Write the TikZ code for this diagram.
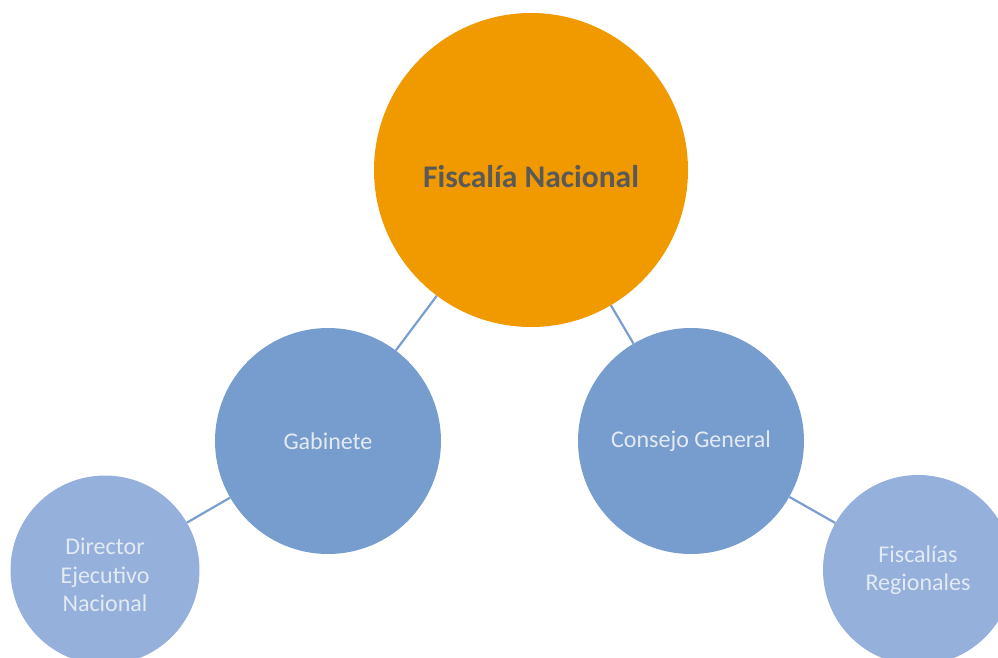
\documentclass[tikz,border=0pt]{standalone}
\usepackage{fontspec}
\setmainfont{Carlito}
\definecolor{orangeC}{HTML}{F09A00}
\definecolor{blueC}{HTML}{779CCE}
\definecolor{lblueC}{HTML}{94B0DB}
\definecolor{lineC}{HTML}{7A9ED0}
\definecolor{txtL}{HTML}{E4EAF3}
\definecolor{txtD}{HTML}{595959}
\begin{document}
\begin{tikzpicture}[x=1pt,y=-1pt,
  bubble/.style={circle,inner sep=0pt,text=txtL,align=center,font=\fontsize{24}{28.5}\selectfont},
  lbl/.style={inner sep=0pt,text=txtL,align=center,font=\fontsize{24}{28.5}\selectfont},
  conn/.style={draw=lineC,line width=2.2pt}]
\useasboundingbox (0,0) rectangle (998,658);
\node[bubble,fill=orangeC,minimum size=314pt] (fn) at (531,170) {};
\node[lbl,text=txtD,font=\fontsize{31.5}{36}\bfseries\selectfont] (fnt) at (531,177) {Fiscalía Nacional};
\node[bubble,fill=blueC,minimum size=226pt] (gab) at (328,441) {Gabinete};
\node[bubble,fill=blueC,minimum size=226pt] (cg) at (691,441) {Consejo General};
\node[bubble,fill=lblueC,minimum size=189pt] (den) at (105,570) {};
\node[lbl] (dent) at (105,575) {Director\\Ejecutivo\\Nacional};
\node[bubble,fill=lblueC,minimum size=190pt] (fr) at (918,570) {Fiscalías\\Regionales};
\path[conn] (fn) -- (gab);
\path[conn] (fn) -- (cg);
\path[conn] (gab) -- (den);
\path[conn] (cg) -- (fr);
\end{tikzpicture}
\end{document}
